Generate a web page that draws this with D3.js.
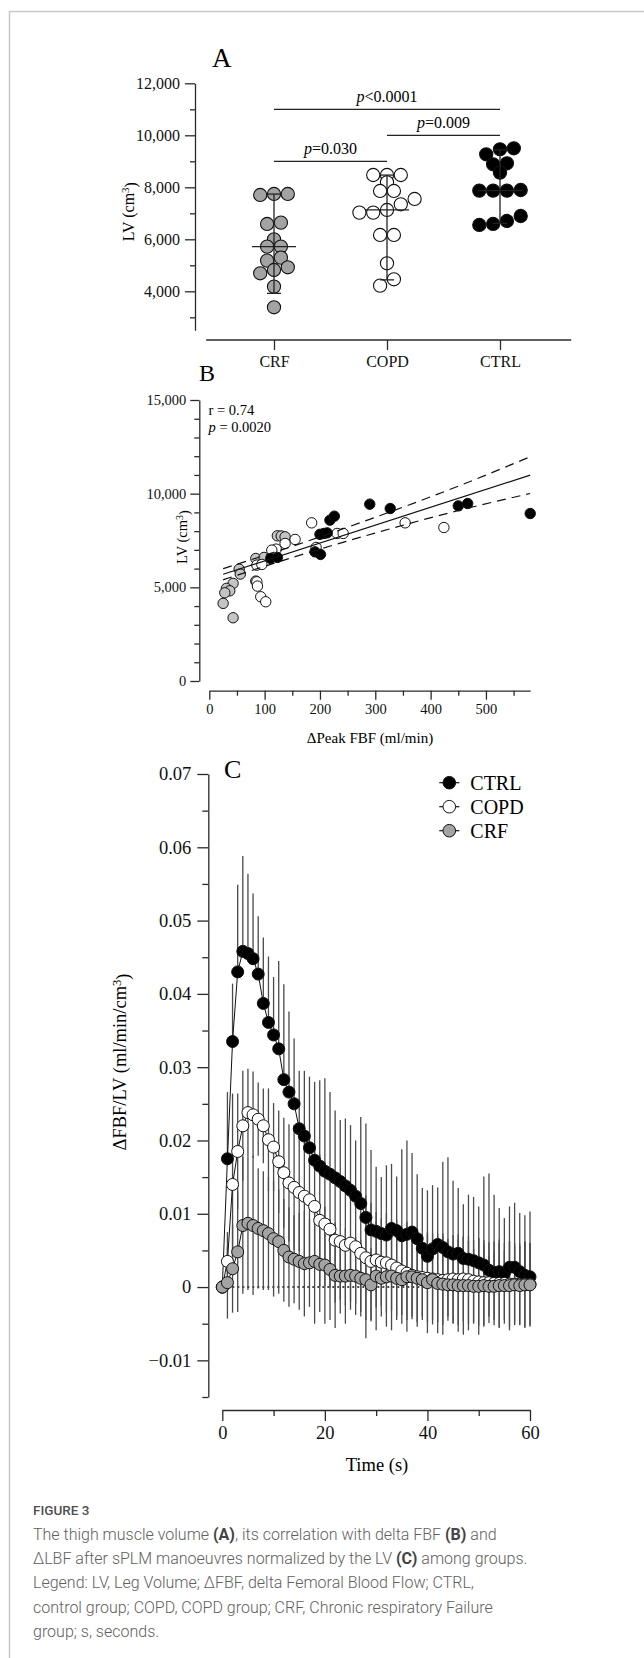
<!DOCTYPE html>
<html><head><meta charset="utf-8">
<script src="https://cdn.jsdelivr.net/npm/d3@7"></script>
<style>
body{margin:0;background:#fff;}
svg{display:block;}
</style></head><body>
<svg id="fig" width="644" height="1658"></svg>
<script>
// ---------------- DATA ----------------
// Panel A: leg volume (cm3) per group
const groups = ["CRF", "COPD", "CTRL"];
const lvCRF  = [7744, 7744, 7705, 6641, 6590, 6000, 5718, 5718, 5295, 5180, 4923, 4820, 4692, 4180, 3385];
const lvCOPD = [8474, 8474, 8474, 8192, 7859, 7859, 7551, 7346, 7128, 7026, 7026, 6167, 6167, 5077, 4462, 4218];
const lvCTRL = [9500, 9462, 9269, 8923, 8885, 8564, 7897, 7872, 7872, 7872, 6897, 6705, 6590, 6551];
const barCenter = [5720, 7130, 7870];
const barLow    = [3920, 4440, 6610];
const barHigh   = [7740, 8470, 9440];
const compFrom  = ["CRF", "COPD", "CRF"];
const compTo    = ["CTRL", "CTRL", "COPD"];
const compLevel = [11000, 10000, 9000];
const compText  = ["<0.0001", "=0.009", "=0.030"];
const ticksA = [4000, 6000, 8000, 10000, 12000];
const minorA = [3000, 5000, 7000, 9000, 11000];

// Panel B: ΔPeak FBF (ml/min) vs LV (cm3)
const fbfCTRL = [111, 123, 191, 201, 200, 207, 213, 218, 226, 290, 327, 450, 467, 580];
const lvBCTRL = [6542, 6596, 6895, 6756, 7830, 7876, 7908, 8585, 8799, 9439, 9208, 9348, 9475, 8941];
const fbfCOPD = [185, 231, 242, 354, 424, 155, 137, 121, 113, 193, 86, 95, 86, 87, 93, 102];
const lvBCOPD = [8443, 7876, 7876, 8443, 8194, 7556, 7342, 7039, 6986, 7128, 6186, 6222, 5296, 5066, 4497, 4230];
const fbfCRF  = [123, 130, 137, 84, 99, 54, 56, 43, 31, 37, 28, 25, 43, 84];
const lvBCRF  = [7750, 7740, 7697, 6542, 6596, 5972, 5706, 5210, 4943, 4815, 4709, 4143, 3376, 5334];
const regX = [25, 580];
const regY = [5700, 10990];
const bandX     = [25, 150, 300, 450, 580];
const bandUpper = [6000, 7190, 8740, 10400, 11970];
const bandLower = [5400, 6590, 7900, 9100, 10010];
const ticksBy = [0, 5000, 10000, 15000];
const minorBy = [1000,2000,3000,4000,6000,7000,8000,9000,11000,12000,13000,14000];
const ticksBx = [0, 100, 200, 300, 400, 500];
const minorBx = [50, 150, 250, 350, 450, 550];

// Panel C: ΔFBF/LV (ml/min/cm3) over time (s), mean and SD
const timeS = d3.range(0, 61, 1);
const ctrlMean = [0, 0.0175, 0.0335, 0.0430, 0.0458, 0.0455, 0.0448, 0.0427, 0.0387, 0.0361,
  0.0344, 0.0325, 0.0283, 0.0266, 0.0250, 0.0216, 0.0206, 0.0190, 0.0173, 0.0165,
  0.0158, 0.0154, 0.0149, 0.0144, 0.0138, 0.0132, 0.0124, 0.0114, 0.0095, 0.0078,
  0.0076, 0.0073, 0.0071, 0.0080, 0.0077, 0.0070, 0.0072, 0.0075, 0.0066, 0.0053,
  0.0042, 0.0052, 0.0058, 0.0054, 0.0048, 0.0045, 0.0046, 0.0039, 0.0038, 0.0036,
  0.0033, 0.0030, 0.0023, 0.0020, 0.0021, 0.0019, 0.0027, 0.0027, 0.0021, 0.0016, 0.0014];
const ctrlSD = [0, 0.0091, 0.0079, 0.0119, 0.0130, 0.0109, 0.0089, 0.0079, 0.0090, 0.0090,
  0.0079, 0.0120, 0.0130, 0.0110, 0.0089, 0.0079, 0.0089, 0.0097, 0.0107, 0.0117,
  0.0127, 0.0112, 0.0092, 0.0084, 0.0092, 0.0089, 0.0076, 0.0118, 0.0128, 0.0109,
  0.0088, 0.0077, 0.0095, 0.0088, 0.0074, 0.0118, 0.0128, 0.0108, 0.0088, 0.0082,
  0.0090, 0.0087, 0.0078, 0.0117, 0.0129, 0.0100, 0.0089, 0.0074, 0.0088, 0.0087,
  0.0077, 0.0121, 0.0132, 0.0106, 0.0087, 0.0075, 0.0083, 0.0088, 0.0080, 0.0082, 0.0089];
const copdMean = [0, 0.0035, 0.0140, 0.0185, 0.0220, 0.0238, 0.0235, 0.0229, 0.0220, 0.0201,
  0.0191, 0.0171, 0.0156, 0.0142, 0.0136, 0.0129, 0.0124, 0.0119, 0.0110, 0.0091,
  0.0086, 0.0079, 0.0064, 0.0062, 0.0057, 0.0060, 0.0055, 0.0046, 0.0040, 0.0035,
  0.0037, 0.0034, 0.0033, 0.0030, 0.0026, 0.0022, 0.0019, 0.0016, 0.0014, 0.0013,
  0.0012, 0.0011, 0.0010, 0.0009, 0.0010, 0.0011, 0.0010, 0.0011, 0.0010, 0.0008,
  0.0007, 0.0006, 0.0006, 0.0005, 0.0005, 0.0005, 0.0004, 0.0004, 0.0004, 0.0004, 0.0004];
const copdSD = [0, 0.0040, 0.0124, 0.0079, 0.0075, 0.0060, 0.0059, 0.0050, 0.0051, 0.0070,
  0.0060, 0.0070, 0.0075, 0.0080, 0.0085, 0.0080, 0.0085, 0.0080, 0.0085, 0.0090,
  0.0085, 0.0080, 0.0085, 0.0080, 0.0082, 0.0080, 0.0078, 0.0080, 0.0085, 0.0080,
  0.0065, 0.0060, 0.0068, 0.0062, 0.0066, 0.0060, 0.0064, 0.0060, 0.0062, 0.0058,
  0.0060, 0.0062, 0.0058, 0.0060, 0.0056, 0.0060, 0.0062, 0.0058, 0.0060, 0.0056,
  0.0060, 0.0058, 0.0055, 0.0057, 0.0060, 0.0055, 0.0058, 0.0056, 0.0055, 0.0058, 0.0056];
const crfMean = [0, 0.0006, 0.0025, 0.0048, 0.0084, 0.0087, 0.0084, 0.0080, 0.0077, 0.0073,
  0.0066, 0.0062, 0.0050, 0.0041, 0.0038, 0.0035, 0.0032, 0.0033, 0.0035, 0.0031,
  0.0030, 0.0024, 0.0016, 0.0015, 0.0015, 0.0016, 0.0015, 0.0012, 0.0010, 0.0003,
  0.0015, 0.0012, 0.0014, 0.0015, 0.0012, 0.0010, 0.0014, 0.0014, 0.0012, 0.0010,
  0.0006, 0.0010, 0.0005, 0.0004, 0.0003, 0.0003, 0.0002, 0.0002, 0.0002, 0.0001,
  0.0001, 0.0002, 0.0001, 0.0001, 0.0002, 0.0002, 0.0002, 0.0003, 0.0002, 0.0003, 0.0003];
const crfSD = [0, 0.0049, 0.0060, 0.0082, 0.0093, 0.0091, 0.0095, 0.0082, 0.0081, 0.0077,
  0.0079, 0.0071, 0.0070, 0.0068, 0.0060, 0.0066, 0.0072, 0.0060, 0.0085, 0.0065,
  0.0080, 0.0069, 0.0072, 0.0051, 0.0065, 0.0047, 0.0053, 0.0052, 0.0080, 0.0050,
  0.0074, 0.0052, 0.0068, 0.0074, 0.0057, 0.0060, 0.0075, 0.0054, 0.0066, 0.0050,
  0.0069, 0.0055, 0.0068, 0.0069, 0.0043, 0.0053, 0.0063, 0.0067, 0.0061, 0.0051,
  0.0066, 0.0056, 0.0041, 0.0046, 0.0058, 0.0047, 0.0061, 0.0053, 0.0054, 0.0059, 0.0057];
const ticksCy = [-0.01, 0, 0.01, 0.02, 0.03, 0.04, 0.05, 0.06, 0.07];
const minorCy = [-0.015, -0.005, 0.005, 0.015, 0.025, 0.035, 0.045, 0.055, 0.065];
const ticksCx = [0, 20, 40, 60];
const minorCx = [10, 30, 50];

// ---------------- DRAWING ----------------
const SERIF = '"Liberation Serif","Times New Roman",serif';
const AX = "#2a2a2a";
const fills = {CRF: "#a3a3a3", COPD: "#ffffff", CTRL: "#000000"};
const svg = d3.select("#fig");

// figure frame
svg.append("path").attr("d", "M9.5,1658 V11.5 H644")
  .attr("fill", "none").attr("stroke", "#c8c8c8").attr("stroke-width", 1.5);

function styleAxis(g, fs) {
  g.selectAll("path,line").attr("stroke", AX).attr("stroke-width", 1.3);
  g.selectAll("text").attr("font-family", SERIF).attr("font-size", fs).attr("fill", "#111");
}
function minor(g, axis) {
  g.call(axis.tickFormat(""));
  g.select(".domain").remove();
  g.selectAll("line").attr("stroke", AX).attr("stroke-width", 1.3);
}

// ======== Panel A ========
const yA = d3.scaleLinear().domain([2500, 12000]).range([330.3, 83.3]);
const xA = d3.scalePoint().domain(groups).range([274, 500]);
const gA = svg.append("g");
gA.append("text").attr("x", 212).attr("y", 67).attr("font-family", SERIF)
  .attr("font-size", 27).text("A");
const axA = gA.append("g").attr("transform", "translate(195,0)")
  .call(d3.axisLeft(yA).tickValues(ticksA).tickSize(10).tickSizeOuter(0).tickPadding(5).tickFormat(d3.format(",")));
styleAxis(axA, 16);
minor(gA.append("g").attr("transform", "translate(195,0)"),
  d3.axisLeft(yA).tickValues(minorA).tickSize(5).tickSizeOuter(0));
// x axis
const stepA = xA.step();
gA.append("line").attr("x1", xA("CRF") - 0.6 * stepA).attr("x2", xA("CTRL") + 0.63 * stepA)
  .attr("y1", 340).attr("y2", 340).attr("stroke", AX).attr("stroke-width", 1.3);
const axAx = gA.append("g").attr("transform", "translate(0,340)")
  .call(d3.axisBottom(xA).tickSize(10).tickSizeOuter(0).tickPadding(6));
axAx.select(".domain").remove();
styleAxis(axAx, 16);
// y label
const labA = gA.append("text").attr("transform", "translate(128,211.7) rotate(-90)")
  .attr("text-anchor", "middle").attr("dy", "0.35em").attr("font-family", SERIF).attr("font-size", 16);
labA.append("tspan").text("LV (cm");
labA.append("tspan").attr("dy", "-0.45em").attr("font-size", 11).text("3");
labA.append("tspan").attr("dy", "0.45em").text(")");

// swarm layout in rows
const rA = 6.6, dA = 2 * rA;
function swarm(values, cx) {
  const sorted = values.slice().sort((a, b) => b - a);
  const rows = [];
  let cur = null, prev = null;
  sorted.forEach(v => {
    if (cur && Math.abs(yA(v) - yA(prev)) < 0.5 * dA) cur.push(v);
    else { cur = [v]; rows.push(cur); }
    prev = v;
  });
  const pts = [];
  rows.forEach(row => {
    const n = row.length;
    row.slice().sort((a, b) => a - b).forEach((v, i) => {
      pts.push({x: cx + (i - (n - 1) / 2) * (dA + 0.6), y: yA(v)});
    });
  });
  return pts;
}
const lvSets = {CRF: lvCRF, COPD: lvCOPD, CTRL: lvCTRL};
groups.forEach(gname => {
  gA.append("g").selectAll("circle").data(swarm(lvSets[gname], xA(gname))).join("circle")
    .attr("cx", d => d.x).attr("cy", d => d.y).attr("r", rA)
    .attr("fill", fills[gname]).attr("stroke", "#111").attr("stroke-width", 1.1);
});
// error bars
groups.forEach((gname, i) => {
  const cx = xA(gname);
  const eg = gA.append("g").attr("stroke", "#222").attr("stroke-width", 1.3);
  eg.append("line").attr("x1", cx).attr("x2", cx).attr("y1", yA(barLow[i])).attr("y2", yA(barHigh[i]));
  eg.append("line").attr("x1", cx - 22).attr("x2", cx + 22).attr("y1", yA(barCenter[i])).attr("y2", yA(barCenter[i]));
  [barLow[i], barHigh[i]].forEach(v => eg.append("line").attr("x1", cx - 7).attr("x2", cx + 7).attr("y1", yA(v)).attr("y2", yA(v)));
});
// comparisons
compFrom.forEach((f, i) => {
  const x1 = xA(f), x2 = xA(compTo[i]), y = yA(compLevel[i]);
  gA.append("line").attr("x1", x1).attr("x2", x2).attr("y1", y).attr("y2", y)
    .attr("stroke", "#222").attr("stroke-width", 1.2);
  const t = gA.append("text").attr("x", (x1 + x2) / 2).attr("y", y - 7.5).attr("text-anchor", "middle")
    .attr("font-family", SERIF).attr("font-size", 16);
  t.append("tspan").attr("font-style", "italic").text("p");
  t.append("tspan").text(compText[i]);
});

// ======== Panel B ========
const xB = d3.scaleLinear().domain([0, 580]).range([209.3, 530.2]);
const yB = d3.scaleLinear().domain([0, 15000]).range([681, 400]);
const gB = svg.append("g");
gB.append("text").attr("x", 199).attr("y", 381).attr("font-family", SERIF).attr("font-size", 24).text("B");
const axBy = gB.append("g").attr("transform", "translate(199.3,0)")
  .call(d3.axisLeft(yB).tickValues(ticksBy).tickSize(9).tickSizeOuter(0).tickPadding(4).tickFormat(d3.format(",")));
styleAxis(axBy, 14.5);
minor(gB.append("g").attr("transform", "translate(199.3,0)"),
  d3.axisLeft(yB).tickValues(minorBy).tickSize(5).tickSizeOuter(0));
const axBx = gB.append("g").attr("transform", "translate(0,690.7)")
  .call(d3.axisBottom(xB).tickValues(ticksBx).tickSize(9).tickSizeOuter(0).tickPadding(4));
styleAxis(axBx, 14.5);
minor(gB.append("g").attr("transform", "translate(0,690.7)"),
  d3.axisBottom(xB).tickValues(minorBx).tickSize(5).tickSizeOuter(0));
gB.append("text").attr("x", 370).attr("y", 742.5).attr("text-anchor", "middle")
  .attr("font-family", SERIF).attr("font-size", 15).text("\u0394Peak FBF (ml/min)");
const labB = gB.append("text").attr("transform", "translate(182,537) rotate(-90)")
  .attr("text-anchor", "middle").attr("dy", "0.35em").attr("font-family", SERIF).attr("font-size", 14.5);
labB.append("tspan").text("LV (cm");
labB.append("tspan").attr("dy", "-0.45em").attr("font-size", 10).text("3");
labB.append("tspan").attr("dy", "0.45em").text(")");
const st1 = gB.append("text").attr("x", 208.5).attr("y", 414.5).attr("font-family", SERIF).attr("font-size", 14.5);
st1.text("r = 0.74");
const st2 = gB.append("text").attr("x", 208.5).attr("y", 432).attr("font-family", SERIF).attr("font-size", 14.5);
st2.append("tspan").attr("font-style", "italic").text("p");
st2.append("tspan").text(" = 0.0020");
// points
const bSets = [
  {x: fbfCRF, y: lvBCRF, fill: "#c4c4c4"},
  {x: fbfCOPD, y: lvBCOPD, fill: "#ffffff"},
  {x: fbfCTRL, y: lvBCTRL, fill: "#000000"}
];
bSets.forEach(s => {
  gB.append("g").selectAll("circle").data(s.x.map((v, i) => [v, s.y[i]])).join("circle")
    .attr("cx", d => xB(d[0])).attr("cy", d => yB(d[1])).attr("r", 5.2)
    .attr("fill", s.fill).attr("stroke", "#111").attr("stroke-width", 1);
});
// regression and band
gB.append("line").attr("x1", xB(regX[0])).attr("x2", xB(regX[1])).attr("y1", yB(regY[0])).attr("y2", yB(regY[1]))
  .attr("stroke", "#111").attr("stroke-width", 1.2);
const bandLine = vals => d3.line().x((d, i) => xB(bandX[i])).y(d => yB(d)).curve(d3.curveMonotoneX)(vals);
[bandUpper, bandLower].forEach(vals => {
  gB.append("path").attr("d", bandLine(vals)).attr("fill", "none").attr("stroke", "#111")
    .attr("stroke-width", 1.2).attr("stroke-dasharray", "9,6");
});

// ======== Panel C ========
const xC = d3.scaleLinear().domain([0, 60]).range([222.3, 530]);
const yC = d3.scaleLinear().domain([-0.015, 0.07]).range([1397, 774]);
const gC = svg.append("g");
gC.append("text").attr("x", 224).attr("y", 778).attr("font-family", SERIF).attr("font-size", 26).text("C");
const fmtC = v => v === 0 ? "0" : d3.format(".2f")(v).replace("-", "\u2013");
const axCy = gC.append("g").attr("transform", "translate(208.3,0)")
  .call(d3.axisLeft(yC).tickValues(ticksCy).tickSize(11).tickSizeOuter(0).tickPadding(6).tickFormat(fmtC));
styleAxis(axCy, 18.5);
minor(gC.append("g").attr("transform", "translate(208.3,0)"),
  d3.axisLeft(yC).tickValues(minorCy).tickSize(6).tickSizeOuter(0));
const axCx = gC.append("g").attr("transform", "translate(0,1410)")
  .call(d3.axisBottom(xC).tickValues(ticksCx).tickSize(11).tickSizeOuter(0).tickPadding(5));
styleAxis(axCx, 18.5);
minor(gC.append("g").attr("transform", "translate(0,1410)"),
  d3.axisBottom(xC).tickValues(minorCx).tickSize(6).tickSizeOuter(0));
gC.append("text").attr("x", 377).attr("y", 1471).attr("text-anchor", "middle")
  .attr("font-family", SERIF).attr("font-size", 18.5).text("Time (s)");
const labC = gC.append("text").attr("transform", "translate(120,1062) rotate(-90)")
  .attr("text-anchor", "middle").attr("dy", "0.35em").attr("font-family", SERIF).attr("font-size", 18.5);
labC.append("tspan").text("\u0394FBF/LV (ml/min/cm");
labC.append("tspan").attr("dy", "-0.45em").attr("font-size", 12.5).text("3");
labC.append("tspan").attr("dy", "0.45em").text(")");

// zero reference
gC.append("line").attr("x1", xC(0)).attr("x2", xC(60)).attr("y1", yC(0)).attr("y2", yC(0))
  .attr("stroke", "#111").attr("stroke-width", 1.6).attr("stroke-dasharray", "2,3");

const cSeries = [
  {name: "CTRL", mean: ctrlMean, sd: ctrlSD, up: true, down: false},
  {name: "COPD", mean: copdMean, sd: copdSD, up: true, down: true},
  {name: "CRF", mean: crfMean, sd: crfSD, up: true, down: true}
];
// error bars (behind)
cSeries.forEach(s => {
  gC.append("g").selectAll("line").data(timeS.filter((t, i) => s.sd[i] > 0)).join("line")
    .attr("x1", t => xC(t)).attr("x2", t => xC(t))
    .attr("y1", t => yC(s.down ? s.mean[t] - s.sd[t] : s.mean[t]))
    .attr("y2", t => yC(s.up ? s.mean[t] + s.sd[t] : s.mean[t]))
    .attr("stroke", "#4a4a4a").attr("stroke-width", 1.3);
});
// lines
cSeries.forEach(s => {
  gC.append("path").attr("d", d3.line().x(t => xC(t)).y(t => yC(s.mean[t]))(timeS))
    .attr("fill", "none").attr("stroke", "#111").attr("stroke-width", 1);
});
// points
cSeries.forEach(s => {
  gC.append("g").selectAll("circle").data(timeS).join("circle")
    .attr("cx", t => xC(t)).attr("cy", t => yC(s.mean[t])).attr("r", 6)
    .attr("fill", fills[s.name]).attr("stroke", "#111").attr("stroke-width", 1);
});
// legend
const legNames = ["CTRL", "COPD", "CRF"];
const lg = gC.append("g").attr("transform", "translate(449.3,782.7)");
legNames.forEach((n, i) => {
  const g = lg.append("g").attr("transform", `translate(0,${i * 24})`);
  g.append("line").attr("x1", -10).attr("x2", 10).attr("stroke", "#111").attr("stroke-width", 1.2);
  g.append("circle").attr("r", 6.3).attr("fill", fills[n]).attr("stroke", "#111").attr("stroke-width", 1);
  g.append("text").attr("x", 21).attr("dy", "0.35em").attr("font-family", SERIF).attr("font-size", 20).text(n);
});

// ======== Caption ========
const CAP = 'Roboto,"Noto Sans",sans-serif';
svg.append("text").attr("x", 33).attr("y", 1514.5).attr("font-family", CAP).attr("font-size", 13.5)
  .attr("font-weight", 500).attr("fill", "#505050").text("FIGURE 3");
const capLines = [
  [["The thigh muscle volume ", 0], ["(A)", 1], [", its correlation with delta FBF ", 0], ["(B)", 1], [" and", 0]],
  [["\u0394LBF after sPLM manoeuvres normalized by the LV ", 0], ["(C)", 1], [" among groups.", 0]],
  [["Legend: LV, Leg Volume; \u0394FBF, delta Femoral Blood Flow; CTRL,", 0]],
  [["control group; COPD, COPD group; CRF, Chronic respiratory Failure", 0]],
  [["group; s, seconds.", 0]]
];
capLines.forEach((parts, i) => {
  const t = svg.append("text").attr("x", 33).attr("y", 1540 + i * 24.2)
    .attr("font-family", CAP).attr("font-size", 16).attr("fill", "#606060").attr("font-weight", 300);
  parts.forEach(p => t.append("tspan").attr("font-weight", p[1] ? 700 : 300)
    .attr("fill", p[1] ? "#444" : "#606060").text(p[0]));
});
</script></body></html>
